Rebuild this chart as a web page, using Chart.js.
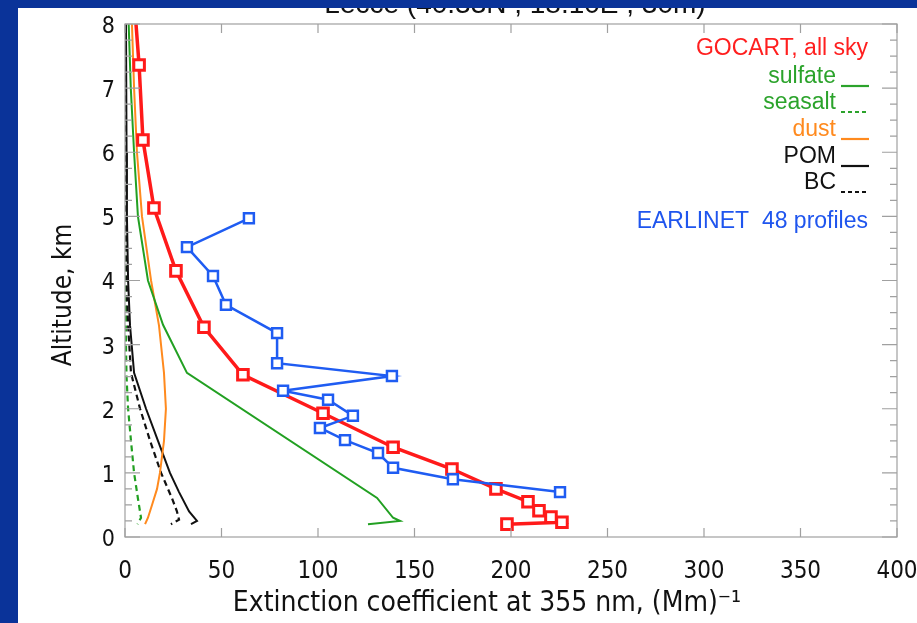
<!DOCTYPE html>
<html>
<head>
<meta charset="utf-8">
<script src="https://cdn.jsdelivr.net/npm/chart.js@4.4.1/dist/chart.umd.min.js"></script>
<style>
  html, body { margin: 0; padding: 0; }
  body { width: 917px; height: 623px; background: #0a3399; overflow: hidden; position: relative; }
  #panel { position: absolute; left: 18px; top: 8px; width: 899px; height: 615px; background: #fff; }
  canvas { display: block; }
</style>
</head>
<body>
<div id="panel"><canvas id="profileChart" width="899" height="615"></canvas></div>
<script>
  /**************Data (altitude km, extinction Mm-1)**************/
  let gocartAlt = [8.6, 7.36, 6.19, 5.13, 4.15, 3.27, 2.53, 1.93, 1.40, 1.06, 0.75, 0.55, 0.41, 0.31, 0.23, 0.20];
  let gocartExt = [4.2, 7.3, 9.3, 15.0, 26.4, 40.9, 61.1, 102.6, 138.9, 169.4, 192.2, 208.8, 214.5, 220.7, 226.4, 197.9];

  let earlinetAlt = [4.97, 4.52, 4.07, 3.62, 3.18, 2.71, 2.51, 2.28, 2.14, 1.89, 1.70, 1.51, 1.31, 1.08, 0.90, 0.70];
  let earlinetExt = [64.2, 32.1, 45.6, 52.3, 78.8, 78.8, 138.3, 81.9, 105.2, 118.1, 101.0, 114.0, 131.1, 138.9, 169.9, 225.4];

  let sulfateAlt = [8.6, 8.0, 7.0, 6.0, 5.0, 4.0, 3.31, 2.56, 0.61, 0.30, 0.25, 0.20];
  let sulfateExt = [1.6, 1.9, 3.0, 4.7, 6.7, 11.9, 19.7, 32.1, 130.6, 138.9, 142.5, 125.9];

  let seasaltAlt = [8.6, 5.0, 4.0, 3.0, 2.5, 2.0, 1.5, 1.0, 0.6, 0.3, 0.2];
  let seasaltExt = [0.1, 0.2, 0.4, 0.5, 0.8, 1.6, 3.1, 4.7, 6.7, 8.3, 6.5];

  let dustAlt = [8.6, 8.0, 7.0, 6.0, 5.0, 4.0, 3.3, 2.56, 2.0, 1.5, 1.0, 0.75, 0.5, 0.3, 0.2];
  let dustExt = [3.4, 3.6, 4.7, 6.2, 8.8, 13.5, 17.6, 20.2, 21.2, 20.2, 18.1, 16.6, 14.0, 11.9, 10.4];

  let pomAlt = [8.6, 8.0, 6.0, 5.0, 4.0, 3.3, 2.56, 2.0, 1.5, 1.0, 0.7, 0.4, 0.25, 0.2];
  let pomExt = [0.3, 0.5, 0.8, 1.0, 1.6, 2.6, 4.7, 10.9, 17.1, 23.3, 28.0, 33.2, 37.3, 34.2];

  let bcAlt = [8.6, 8.0, 5.0, 4.0, 3.3, 2.56, 2.0, 1.5, 1.0, 0.6, 0.4, 0.27, 0.2];
  let bcExt = [0.15, 0.25, 0.5, 0.8, 1.6, 3.1, 7.8, 13.0, 18.7, 24.4, 26.9, 28.0, 23.8];

  let xTicks = [0, 50, 100, 150, 200, 250, 300, 350, 400];
  let yTicks = [0, 1, 2, 3, 4, 5, 6, 7, 8];

  let titleText = 'Lecce (40.33N , 18.10E , 30m)';
  let xTitle = 'Extinction coefficient at 355 nm, (Mm)\u207B\u00B9';
  let yTitle = 'Altitude, km';

  let legendRows = [
    { text: 'GOCART, all sky', color: '#ff1f1f', line: null },
    { text: 'sulfate', color: '#2ba32b', line: 'solid' },
    { text: 'seasalt', color: '#2ba32b', line: 'dash' },
    { text: 'dust', color: '#ff8a1e', line: 'solid' },
    { text: 'POM', color: '#111111', line: 'solid' },
    { text: 'BC', color: '#111111', line: 'dash' },
    { text: 'EARLINET  48 profiles', color: '#1f55ee', line: null }
  ];

  const narrowFont = "'Liberation Sans Narrow', 'DejaVu Sans Condensed', 'Liberation Sans', sans-serif";
  const plainFont = "'Liberation Sans', Arial, sans-serif";

  function toPoints(xs, ys) {
    let pts = [];
    for (let i = 0; i < xs.length; i++) pts.push({ x: xs[i], y: ys[i] });
    return pts;
  }

  /**************Frame, inward ticks, titles and text legend**************/
  const decorPlugin = {
    id: 'decor',
    afterDraw(chart) {
      const ctx = chart.ctx;
      const a = chart.chartArea;
      const xs = chart.scales.x, ys = chart.scales.y;
      ctx.save();
      ctx.strokeStyle = '#a0a0a0';
      ctx.lineWidth = 1.2;
      ctx.strokeRect(a.left, a.top, a.right - a.left, a.bottom - a.top);
      ctx.beginPath();
      xTicks.forEach(v => {
        const px = xs.getPixelForValue(v);
        ctx.moveTo(px, a.bottom); ctx.lineTo(px, a.bottom - 9);
        ctx.moveTo(px, a.top); ctx.lineTo(px, a.top + 9);
      });
      for (let k = 0; k <= 32; k++) {
        const v = k / 4;
        const len = (k % 4 == 0) ? 15 : 7;
        const py = ys.getPixelForValue(v);
        ctx.moveTo(a.left, py); ctx.lineTo(a.left + len, py);
        ctx.moveTo(a.right, py); ctx.lineTo(a.right - len, py);
      }
      ctx.stroke();

      // axis titles
      ctx.fillStyle = '#111';
      ctx.textAlign = 'center';
      ctx.textBaseline = 'middle';
      ctx.font = '28px ' + narrowFont;
      ctx.fillText(xTitle, 469, 596);
      ctx.font = '26px ' + narrowFont;
      ctx.save();
      ctx.translate(46, 287);
      ctx.rotate(-Math.PI / 2);
      ctx.fillText(yTitle, 0, 0);
      ctx.restore();

      // top title, mostly hidden above the panel
      ctx.font = '28px ' + plainFont;
      ctx.textBaseline = 'alphabetic';
      ctx.fillText(titleText, 497, 5);

      // legend text
      const rowY = [41, 69, 95, 122, 149, 175, 214];
      ctx.font = '23px ' + plainFont;
      ctx.textBaseline = 'middle';
      ctx.textAlign = 'right';
      legendRows.forEach((r, i) => {
        ctx.fillStyle = r.color;
        if (r.line == null) {
          ctx.fillText(r.text, 850, rowY[i]);
        } else {
          ctx.fillText(r.text, 818, rowY[i]);
          ctx.strokeStyle = r.color;
          ctx.lineWidth = 2.2;
          ctx.setLineDash(r.line == 'dash' ? [4, 3] : []);
          ctx.beginPath();
          ctx.moveTo(823, rowY[i] + 9);
          ctx.lineTo(851, rowY[i] + 9);
          ctx.stroke();
          ctx.setLineDash([]);
        }
      });
      ctx.restore();
    }
  };

  const ctx = document.getElementById('profileChart').getContext('2d');
  const profileChart = new Chart(ctx, {
    type: 'scatter',
    data: {
      datasets: [
        { label: 'EARLINET', data: toPoints(earlinetExt, earlinetAlt), showLine: true, order: 0,
          borderColor: '#1f5cf2', borderWidth: 2.5, pointStyle: 'rect', pointRadius: 7,
          pointBorderWidth: 2.5, pointBackgroundColor: '#ffffff', pointBorderColor: '#1f5cf2' },
        { label: 'GOCART', data: toPoints(gocartExt, gocartAlt), showLine: true, order: 1,
          borderColor: '#ff1a1a', borderWidth: 3.5, pointStyle: 'rect', pointRadius: 7.5,
          pointBorderWidth: 3, pointBackgroundColor: '#ffffff', pointBorderColor: '#ff1a1a' },
        { label: 'sulfate', data: toPoints(sulfateExt, sulfateAlt), showLine: true, order: 2,
          borderColor: '#22a022', borderWidth: 2, pointRadius: 0 },
        { label: 'dust', data: toPoints(dustExt, dustAlt), showLine: true, order: 3,
          borderColor: '#ff8a1e', borderWidth: 2, pointRadius: 0 },
        { label: 'POM', data: toPoints(pomExt, pomAlt), showLine: true, order: 4,
          borderColor: '#111111', borderWidth: 2, pointRadius: 0 },
        { label: 'BC', data: toPoints(bcExt, bcAlt), showLine: true, order: 5,
          borderColor: '#111111', borderWidth: 2.2, borderDash: [6, 4], pointRadius: 0 },
        { label: 'seasalt', data: toPoints(seasaltExt, seasaltAlt), showLine: true, order: 6,
          borderColor: '#22a022', borderWidth: 2.2, borderDash: [6, 4], pointRadius: 0 }
      ]
    },
    options: {
      responsive: false,
      animation: false,
      layout: { padding: { top: 16, right: 20, left: 0, bottom: 0 } },
      plugins: { legend: { display: false }, tooltip: { enabled: false } },
      scales: {
        x: {
          type: 'linear', min: 0, max: 400,
          afterFit: s => { s.height = 86; s.paddingLeft = 0; s.paddingRight = 0; },
          grid: { display: false, drawTicks: false },
          border: { display: false },
          ticks: { stepSize: 50, padding: 20, color: '#111', maxRotation: 0, autoSkip: false,
                   font: { family: narrowFont, size: 24 } }
        },
        y: {
          type: 'linear', min: 0, max: 8,
          afterFit: s => { s.width = 107; s.paddingTop = 0; s.paddingBottom = 0; },
          grid: { display: false, drawTicks: false },
          border: { display: false },
          ticks: { stepSize: 1, padding: 10, labelOffset: 3, color: '#111', autoSkip: false,
                   font: { family: narrowFont, size: 23 } }
        }
      }
    },
    plugins: [decorPlugin]
  });
</script>
</body>
</html>
